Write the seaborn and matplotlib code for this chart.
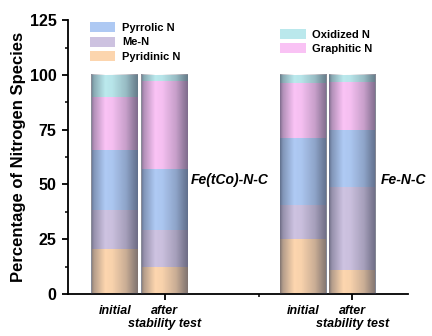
import numpy as np
import pandas as pd
import matplotlib
matplotlib.use("Agg")
import matplotlib.pyplot as plt
import seaborn as sns
from matplotlib.patches import Patch

sns.set_style("ticks")
plt.rcParams['font.family'] = ['Liberation Sans', 'DejaVu Sans']
for k in ["text.color", "axes.labelcolor", "xtick.color", "ytick.color", "axes.edgecolor"]:
    plt.rcParams[k] = "black"

# ---- data ----
samples = ["initial", "after\nstability test", "initial", "after\nstability test"]
positions = [0.94, 1.94, 4.71, 5.69]
groups = ["Fe(tCo)-N-C", "Fe-N-C"]
pyridinic = [20.5, 12.2, 25.3, 11.1]
me_n = [17.7, 17.2, 15.5, 37.6]
pyrrolic = [27.5, 27.8, 30.6, 26.2]
graphitic = [24.3, 40.1, 24.8, 21.8]
oxidized = [10.0, 2.7, 3.8, 3.3]

species = ["Pyridinic N", "Me-N", "Pyrrolic N", "Graphitic N", "Oxidized N"]
colors = {"Pyridinic N": "#fcd5ae", "Me-N": "#cdc2e0", "Pyrrolic N": "#aec9f3",
          "Graphitic N": "#f9c2f4", "Oxidized N": "#bae8ec"}

layers = [pyridinic, me_n, pyrrolic, graphitic, oxidized]
cum = np.cumsum(np.array(layers), axis=0)

fig = plt.figure(figsize=(4.32, 3.36), dpi=100)
ax = fig.add_axes([0.157, 0.125, 0.787, 0.815])

df = pd.DataFrame({"x": positions})
# draw cumulative bars from top layer downward
for i in range(len(species) - 1, -1, -1):
    df["y"] = cum[i]
    sns.barplot(data=df, x="x", y="y", native_scale=True, width=0.94,
                color=colors[species[i]], saturation=1, ax=ax,
                linewidth=0, errorbar=None)

# cylindrical shading overlay
prof_x = np.linspace(0, 1, 200)
alpha = np.interp(prof_x, [0, 0.06, 0.3, 0.45, 0.75, 0.92, 1.0],
                  [0.6, 0.35, 0.0, 0.02, 0.25, 0.5, 0.6])
grad = np.zeros((1, 200, 4))
grad[..., 0] = 0.18
grad[..., 1] = 0.20
grad[..., 2] = 0.28
grad[..., 3] = alpha
for p, top in zip(positions, cum[-1]):
    ax.imshow(grad, extent=[p - 0.47, p + 0.47, 0, top], aspect="auto",
              interpolation="bilinear", zorder=3)

ax.set_xlim(0, 6.8)
ax.set_ylim(0, 125)
ax.set_xticks([1.94, 5.69])
ax.set_xticklabels([])
ax.set_xticks([3.82], minor=True)
ax.set_yticks([0, 25, 50, 75, 100, 125])
ax.set_yticks([12.5, 37.5, 62.5, 87.5, 112.5], minor=True)
ax.tick_params(axis="both", which="major", direction="out", length=4.5, width=1.3)
ax.tick_params(axis="both", which="minor", direction="out", length=2.5, width=1.1)
for lab in ax.get_yticklabels():
    lab.set_fontweight("bold")
    lab.set_fontsize(11.5)
ax.set_xlabel("")
ax.set_ylabel("Percentage of Nitrogen Species", fontsize=12, fontweight="bold", labelpad=3)
sns.despine(ax=ax)
ax.spines["left"].set_linewidth(1.3)
ax.spines["bottom"].set_linewidth(1.3)

# x labels (one text per line)
for p, s in zip(positions, samples):
    for j, line in enumerate(s.split("\n")):
        ax.text(p, -5 - j * 6.0, line, ha="center", va="top", fontsize=9,
                fontweight="bold", fontstyle="italic", clip_on=False)

# group labels
ax.text(2.45, 52, groups[0], ha="left", va="center", fontsize=10,
        fontweight="bold", fontstyle="italic", zorder=5)
ax.text(6.26, 52, groups[1], ha="left", va="center", fontsize=10,
        fontweight="bold", fontstyle="italic", clip_on=False, zorder=5)

# legends
h1 = [Patch(facecolor=colors[s], edgecolor="none") for s in ["Pyrrolic N", "Me-N", "Pyridinic N"]]
leg1 = ax.legend(h1, ["Pyrrolic N", "Me-N", "Pyridinic N"], loc="upper left",
                 bbox_to_anchor=(0.035, 1.03), frameon=False, prop={"weight": "bold", "size": 8},
                 handlelength=2.3, handleheight=1.0, labelspacing=0.35, handletextpad=0.6)
ax.add_artist(leg1)
h2 = [Patch(facecolor=colors[s], edgecolor="none") for s in ["Oxidized N", "Graphitic N"]]
ax.legend(h2, ["Oxidized N", "Graphitic N"], loc="upper left",
          bbox_to_anchor=(0.595, 1.005), frameon=False, prop={"weight": "bold", "size": 8},
          handlelength=2.3, handleheight=1.0, labelspacing=0.35, handletextpad=0.6)

fig.savefig("out.png", dpi=100)
